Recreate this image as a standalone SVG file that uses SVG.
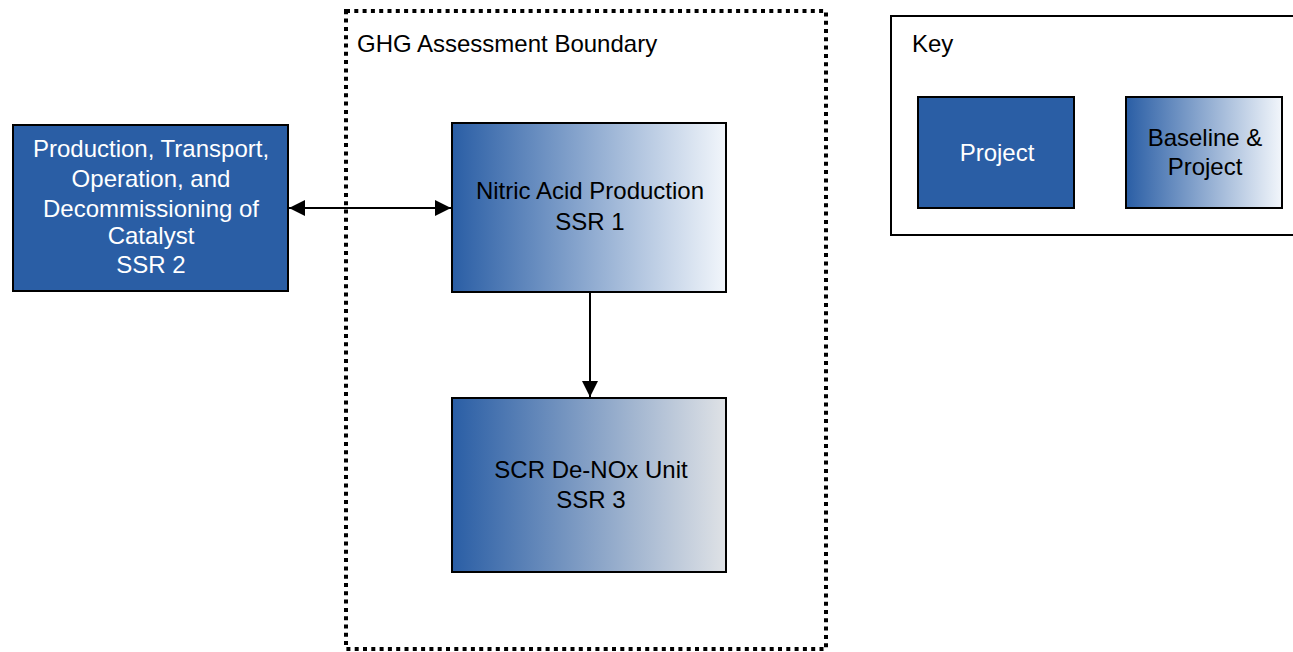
<svg xmlns="http://www.w3.org/2000/svg" width="1293" height="652" viewBox="0 0 1293 652">
  <defs>
    <linearGradient id="gradLight" x1="0" y1="0" x2="1" y2="0">
      <stop offset="0" stop-color="#2a5ea5"/>
      <stop offset="1" stop-color="#f2f6fb"/>
    </linearGradient>
    <linearGradient id="gradGrey" x1="0" y1="0" x2="1" y2="0">
      <stop offset="0" stop-color="#2a5ea5"/>
      <stop offset="1" stop-color="#dfe2e6"/>
    </linearGradient>
    <marker id="arrow" viewBox="0 0 16 16" refX="16" refY="8" markerWidth="16" markerHeight="16" markerUnits="userSpaceOnUse" orient="auto-start-reverse">
      <path d="M0,0 L16,8 L0,16 Z" fill="#000"/>
    </marker>
    <style>
      text { font-family: "Liberation Sans", Arial, sans-serif; font-size: 24px; text-anchor: middle; }
      .box { stroke: #000; stroke-width: 2; }
      .solid { fill: #2a5ea5; }
      .light { fill: #fff; }
      .dark { fill: #000; }
      .conn { stroke: #000; stroke-width: 2; fill: none; }
    </style>
  </defs>

  <rect width="1293" height="652" fill="#fff"/>

  <g id="boundary">
    <rect x="346" y="11" width="480" height="638" fill="none" stroke="#000" stroke-width="4" stroke-dasharray="4 4.3"/>
    <text x="357" y="52" class="dark" style="text-anchor:start">GHG Assessment Boundary</text>
  </g>

  <g id="ssr2">
    <rect x="13" y="125" width="275" height="166" class="box solid"/>
    <text x="151" y="157" class="light">Production, Transport,</text>
    <text x="151" y="187" class="light">Operation, and</text>
    <text x="151" y="217" class="light">Decommissioning of</text>
    <text x="151" y="244" class="light">Catalyst</text>
    <text x="151" y="273" class="light">SSR 2</text>
  </g>

  <g id="ssr1">
    <rect x="452" y="123" width="274" height="169" class="box" fill="url(#gradLight)"/>
    <text x="590" y="199" class="dark">Nitric Acid Production</text>
    <text x="590" y="230" class="dark">SSR 1</text>
  </g>

  <g id="ssr3">
    <rect x="452" y="398" width="274" height="174" class="box" fill="url(#gradGrey)"/>
    <text x="591" y="478" class="dark">SCR De-NOx Unit</text>
    <text x="591" y="508" class="dark">SSR 3</text>
  </g>

  <g id="key">
    <rect x="891" y="16" width="410" height="219" fill="#fff" stroke="#000" stroke-width="2"/>
    <text x="912" y="52" class="dark" style="text-anchor:start">Key</text>
    <g id="key-project">
      <rect x="918" y="97" width="156" height="111" class="box solid"/>
      <text x="997" y="161" class="light">Project</text>
    </g>
    <g id="key-baseline">
      <rect x="1126" y="97" width="156" height="111" class="box" fill="url(#gradLight)"/>
      <text x="1205" y="146" class="dark">Baseline &amp;</text>
      <text x="1205" y="175" class="dark">Project</text>
    </g>
  </g>

  <g id="connectors">
    <line x1="289" y1="208" x2="451" y2="208" class="conn" marker-start="url(#arrow)" marker-end="url(#arrow)"/>
    <line x1="590" y1="293" x2="590" y2="397" class="conn" marker-end="url(#arrow)"/>
  </g>
</svg>
